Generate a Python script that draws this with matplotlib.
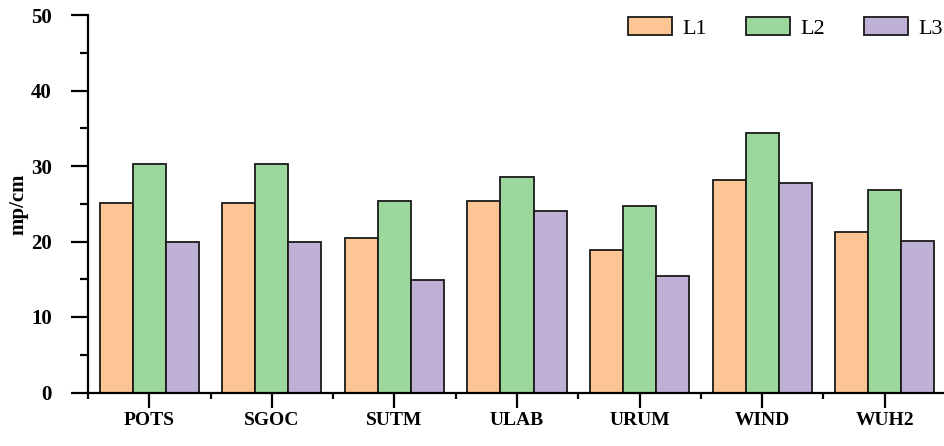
import matplotlib
matplotlib.use("Agg")
import matplotlib.pyplot as plt
import numpy as np
from matplotlib.ticker import MultipleLocator, FixedLocator

stations = ["POTS", "SGOC", "SUTM", "ULAB", "URUM", "WIND", "WUH2"]
l1 = [25.1, 25.1, 20.5, 25.4, 18.9, 28.1, 21.3]
l2 = [30.2, 30.2, 25.3, 28.6, 24.7, 34.4, 26.8]
l3 = [19.9, 19.9, 14.9, 24.1, 15.4, 27.8, 20.1]
series_names = ["L1", "L2", "L3"]
colors = ["#FDC593", "#9CD79B", "#BFB1D6"]

plt.rcParams["font.family"] = ["Liberation Serif", "DejaVu Serif"]

fig = plt.figure(figsize=(9.44, 4.46), dpi=100)
ax = fig.add_axes([88 / 944, 1 - 392.5 / 446, 858 / 944, (392.5 - 15) / 446])

x = np.arange(1, len(stations) + 1)
w = 0.27
for i, (vals, name, c) in enumerate(zip([l1, l2, l3], series_names, colors)):
    ax.bar(x + (i - 1) * w, vals, width=w, color=c, edgecolor="#1a1a1a",
           linewidth=1.3, label=name, zorder=2)

ax.set_xlim(0.5, 7.5)
ax.set_ylim(0, 50)
ax.set_xticks(x)
ax.set_xticklabels(stations, fontsize=14, fontweight="bold")
ax.xaxis.set_minor_locator(FixedLocator(np.arange(0.5, 8, 1.0)))
ax.yaxis.set_major_locator(MultipleLocator(10))
ax.yaxis.set_minor_locator(MultipleLocator(5))
for lab in ax.get_yticklabels():
    lab.set_fontsize(15)
    lab.set_fontweight("bold")

ax.tick_params(axis="y", which="major", direction="out", length=12, width=1.6, pad=14)
ax.tick_params(axis="y", which="minor", direction="out", length=6, width=1.6)
ax.tick_params(axis="x", which="major", direction="out", length=11, width=1.6, pad=3)
ax.tick_params(axis="x", which="minor", direction="out", length=4.5, width=1.6)

for side in ["top", "right"]:
    ax.spines[side].set_visible(False)
for side in ["left", "bottom"]:
    ax.spines[side].set_linewidth(1.6)

ax.set_ylabel("mp/cm", fontsize=15, fontweight="bold")
ax.yaxis.set_label_coords(-60 / 858, 0.5)

leg = ax.legend(loc="upper left", bbox_to_anchor=(628 / 944, 1 - 17 / 446),
                bbox_transform=fig.transFigure, ncol=3, frameon=False,
                fontsize=16, handlelength=2.0, handleheight=0.9,
                handletextpad=0.45, columnspacing=1.75, borderpad=0, borderaxespad=0)

fig.savefig("out.png", dpi=100)
